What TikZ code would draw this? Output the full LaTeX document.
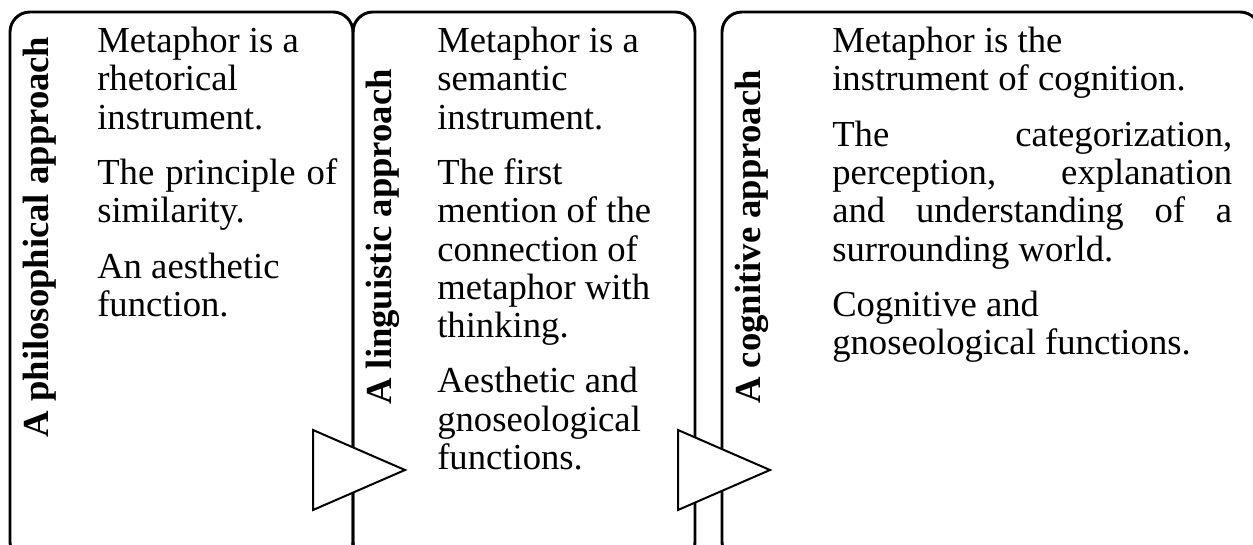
\documentclass[tikz,border=0pt]{standalone}
\usepackage{fontspec}
\setmainfont{Liberation Serif}
\tikzset{
	panel/.style = {rounded corners = 15pt, line width = 2.2pt},
	pointer/.style = {fill = white, line width = 1.5pt},
	heading/.style = {rotate = 90, inner sep = 0pt, font = \fontsize{27.5}{30}\selectfont\bfseries},
	body/.style = {anchor = north west, inner sep = 0pt, align = justify, font = \fontsize{27.5}{28.7}\selectfont}
}
\begin{document}
\begin{tikzpicture}[x = 0.75pt, y = -0.75pt]
	\useasboundingbox (0,0) rectangle (1253,545);
	\clip (0,0) rectangle (1253,545);
	% the three approaches
	\draw [panel] (10,12) rectangle (353,562);
	\draw [panel] (353,12) rectangle (695,562);
	\draw [panel] (722,12) rectangle (1260,562);
	\node [heading] (philo) at (40,237) {A philosophical approach};
	\node [heading] (lingu) at (383,237) {A linguistic approach};
	\node [heading] (cogni) at (752,237) {A cognitive approach};
	\node [body, text width = 180pt] (philotext) at (97,27) {Metaphor is a\\ rhetorical\\ instrument.\\[12.8pt] The principle of\linebreak similarity.\\[12.8pt] An aesthetic\\ function.};
	\node [body, text width = 186pt] (lingutext) at (437,27) {Metaphor is a\\ semantic\\ instrument.\\[12.8pt] The first\\ mention of the\\ connection of\\ metaphor with\\ thinking.\\[12.8pt] Aesthetic and\\ gnoseological\\ functions.};
	\node [body, text width = 300pt] (cognitext) at (832,27) {Metaphor is the\\ instrument of cognition.\\[12.8pt] The categorization,\linebreak perception, explanation\linebreak and understanding of a\linebreak surrounding world.\\[12.8pt] Cognitive and\\ gnoseological functions.};
	% arrows between the panels
	\draw [pointer] (313,430) -- (313,510) -- (405,470) -- cycle;
	\draw [pointer] (678,430) -- (678,510) -- (770,470) -- cycle;
\end{tikzpicture}
\end{document}
